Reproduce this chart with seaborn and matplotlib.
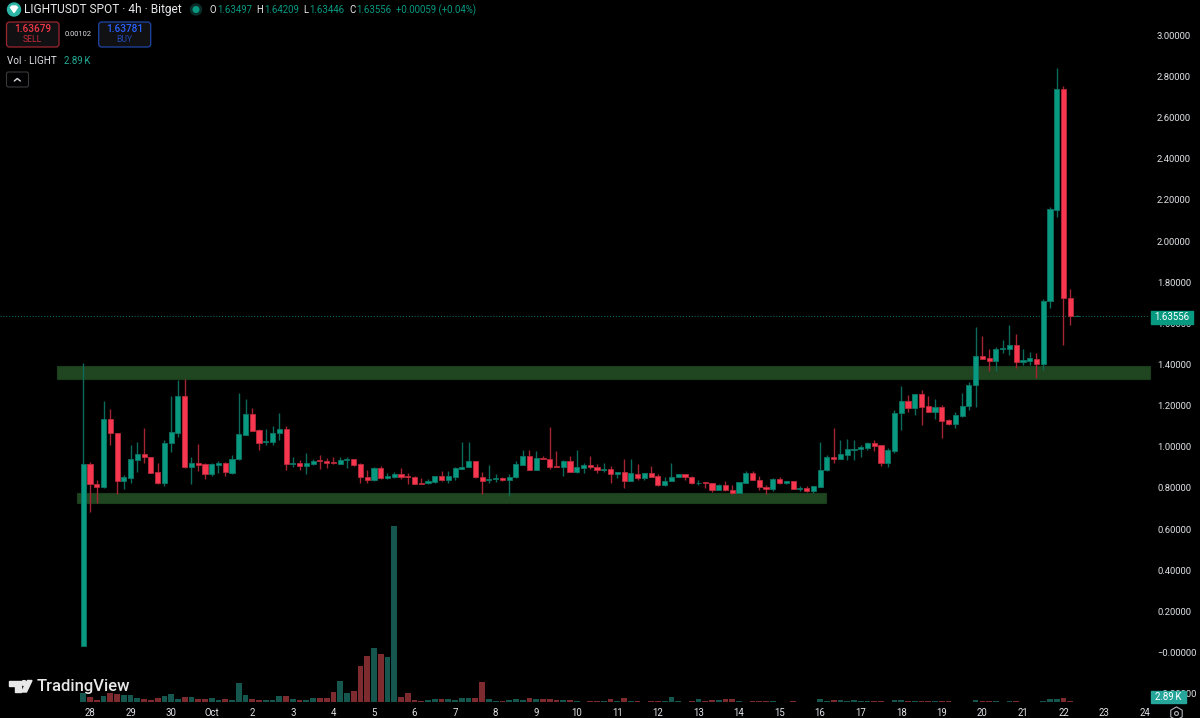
import numpy as np
import pandas as pd
import matplotlib
matplotlib.use('Agg')
import matplotlib.pyplot as plt
from matplotlib.patches import Rectangle, FancyBboxPatch, Polygon, Circle
import seaborn as sns

# 4h candles, 27 Sep 20:00 onward
opens = [0.03, 0.915, 0.821, 0.803, 1.134, 1.069, 0.834, 0.849, 0.938, 0.965, 0.952, 0.878, 0.826, 1.017, 1.069, 1.249,
         0.900, 0.923, 0.917, 0.868, 0.912, 0.923, 0.874, 0.939, 1.059, 1.16, 1.082, 1.025, 1.025, 1.067, 1.087, 0.917,
         0.921, 0.908, 0.917, 0.934, 0.933, 0.926, 0.918, 0.936, 0.941, 0.915, 0.855, 0.837, 0.897, 0.847, 0.855, 0.866,
         0.86, 0.855, 0.824, 0.823, 0.829, 0.858, 0.837, 0.855, 0.892, 0.9, 0.931, 0.855, 0.84, 0.845, 0.848, 0.837,
         0.852, 0.912, 0.955, 0.889, 0.944, 0.941, 0.907, 0.9, 0.929, 0.878, 0.897, 0.912, 0.904, 0.889, 0.892, 0.868,
         0.878, 0.834, 0.87, 0.85, 0.873, 0.858, 0.814, 0.834, 0.852, 0.866, 0.855, 0.823, 0.827, 0.824, 0.792, 0.814,
         0.792, 0.775, 0.826, 0.873, 0.84, 0.805, 0.795, 0.844, 0.823, 0.832, 0.797, 0.8, 0.784, 0.806, 0.886, 0.952,
         0.941, 0.96, 0.986, 0.988, 0.994, 1.02, 1.009, 0.92, 0.98, 1.163, 1.223, 1.189, 1.257, 1.197, 1.169, 1.194,
         1.129, 1.109, 1.151, 1.197, 1.299, 1.441, 1.432, 1.417, 1.475, 1.477, 1.493, 1.412, 1.419, 1.428, 1.403, 1.709,
         2.153, 2.737, 1.725, 1.63497]
highs = [1.409, 0.926, 0.839, 1.223, 1.182, 1.069, 0.861, 1.009, 1.023, 1.091, 0.952, 0.923, 1.033, 1.247, 1.325, 1.33,
         0.951, 1.014, 0.92, 0.92, 0.931, 0.926, 0.959, 1.262, 1.232, 1.187, 1.088, 1.087, 1.1, 1.163, 1.101, 0.952,
         0.934, 0.972, 0.939, 0.96, 0.944, 0.949, 0.949, 0.949, 0.941, 0.92, 0.886, 0.904, 0.907, 0.871, 0.878, 0.897,
         0.874, 0.858, 0.847, 0.844, 0.86, 0.882, 0.882, 0.9, 1.023, 1.023, 0.931, 0.878, 0.912, 0.866, 0.855, 0.868,
         0.933, 0.983, 0.983, 0.978, 0.954, 1.095, 0.978, 0.937, 0.955, 0.983, 0.923, 0.955, 0.915, 0.92, 0.905, 0.878,
         0.939, 0.941, 0.916, 0.874, 0.905, 0.866, 0.852, 0.92, 0.869, 0.869, 0.858, 0.84, 0.827, 0.824, 0.821, 0.836,
         0.816, 0.827, 0.881, 0.881, 0.858, 0.816, 0.847, 0.855, 0.834, 0.834, 0.809, 0.809, 0.809, 1.023, 0.959, 1.092,
         1.035, 1.038, 1.033, 1.009, 1.023, 1.035, 1.009, 0.994, 1.179, 1.297, 1.252, 1.257, 1.276, 1.245, 1.232, 1.203,
         1.134, 1.169, 1.263, 1.315, 1.584, 1.539, 1.474, 1.484, 1.519, 1.59, 1.548, 1.477, 1.459, 1.454, 1.717, 2.164,
         2.841, 2.755, 1.767, 1.64209]
lows = [0.03, 0.683, 0.729, 0.8, 1.009, 0.771, 0.795, 0.826, 0.878, 0.923, 0.871, 0.819, 0.811, 0.977, 1.05, 0.897,
        0.819, 0.884, 0.845, 0.858, 0.874, 0.86, 0.868, 0.936, 1.057, 1.077, 0.985, 1.009, 1.009, 1.033, 0.889, 0.904,
        0.889, 0.868, 0.912, 0.891, 0.897, 0.915, 0.917, 0.899, 0.908, 0.823, 0.823, 0.834, 0.842, 0.844, 0.847, 0.845,
        0.819, 0.819, 0.819, 0.819, 0.823, 0.834, 0.826, 0.84, 0.89, 0.9, 0.847, 0.769, 0.823, 0.829, 0.834, 0.763,
        0.85, 0.91, 0.888, 0.888, 0.94, 0.891, 0.9, 0.86, 0.878, 0.871, 0.874, 0.894, 0.874, 0.878, 0.824, 0.848,
        0.8, 0.834, 0.84, 0.84, 0.855, 0.811, 0.809, 0.834, 0.852, 0.84, 0.821, 0.816, 0.8, 0.78, 0.788, 0.785,
        0.769, 0.775, 0.824, 0.837, 0.792, 0.771, 0.785, 0.821, 0.821, 0.793, 0.787, 0.782, 0.775, 0.804, 0.884, 0.92,
        0.941, 0.938, 0.938, 0.952, 0.983, 0.98, 0.907, 0.9, 0.972, 1.082, 1.169, 1.155, 1.106, 1.167, 1.135, 1.043,
        1.107, 1.092, 1.143, 1.179, 1.194, 1.426, 1.369, 1.369, 1.458, 1.446, 1.381, 1.396, 1.396, 1.335, 1.373, 1.676,
        2.115, 1.493, 1.594, 1.63446]
closes = [0.915, 0.819, 0.803, 1.134, 1.067, 0.834, 0.852, 0.941, 0.965, 0.949, 0.874, 0.826, 1.02, 1.072, 1.249, 0.9,
          0.921, 0.912, 0.868, 0.915, 0.923, 0.876, 0.941, 1.062, 1.16, 1.077, 1.02, 1.028, 1.067, 1.087, 0.917, 0.921,
          0.908, 0.92, 0.933, 0.931, 0.92, 0.92, 0.936, 0.941, 0.912, 0.852, 0.837, 0.897, 0.847, 0.86, 0.866, 0.855,
          0.855, 0.821, 0.821, 0.832, 0.86, 0.837, 0.858, 0.897, 0.903, 0.931, 0.852, 0.836, 0.844, 0.85, 0.837, 0.855,
          0.915, 0.955, 0.889, 0.944, 0.941, 0.904, 0.9, 0.929, 0.878, 0.9, 0.912, 0.9, 0.887, 0.892, 0.868, 0.878,
          0.834, 0.871, 0.85, 0.874, 0.855, 0.814, 0.836, 0.855, 0.866, 0.852, 0.823, 0.826, 0.823, 0.792, 0.814, 0.788,
          0.777, 0.827, 0.873, 0.837, 0.803, 0.795, 0.844, 0.823, 0.832, 0.795, 0.8, 0.784, 0.809, 0.887, 0.952, 0.941,
          0.964, 0.989, 0.989, 0.999, 1.02, 1.006, 0.92, 0.983, 1.166, 1.223, 1.189, 1.257, 1.194, 1.169, 1.194, 1.126,
          1.109, 1.155, 1.198, 1.3, 1.441, 1.428, 1.417, 1.477, 1.48, 1.493, 1.411, 1.42, 1.43, 1.403, 1.71, 2.156,
          2.737, 1.722, 1.63497, 1.63556]
# volume in thousands
volumes = [39, 25, 12, 28, 39, 36, 32, 32, 17, 15, 12, 19, 26, 36, 15, 23, 23, 15, 15, 17, 9, 13, 12, 83, 32, 15, 9, 9,
           12, 29, 26, 15, 12, 12, 19, 19, 19, 46, 93, 42, 49, 157, 202, 236, 210, 197, 766, 22, 39, 9, 6, 9, 13, 13,
           13, 9, 19, 19, 19, 88, 15, 6, 6, 9, 13, 9, 17, 15, 13, 16, 9, 10, 9, 6, 3, 6, 6, 4, 15, 7, 20, 7, 4, 3,
           6, 6, 6, 25, 4, 3, 6, 16, 4, 10, 9, 15, 15, 6, 3, 4, 6, 6, 6, 3, 3, 4, 3, 3, 3, 15, 6, 10, 10, 6, 10, 6,
           6, 6, 6, 3, 9, 9, 6, 6, 6, 6, 4, 4, 4, 3, 3, 3, 10, 6, 4, 6, 3, 6, 4, 3, 3, 3, 6, 15, 15, 20, 6, 2.89]

day_labels = ['28', '29', '30', 'Oct', '2', '3', '4', '5', '6', '7', '8', '9', '10', '11', '12', '13', '14', '15', '16',
              '17', '18', '19', '20', '21', '22', '23', '24']
price_ticks = [-0.2, 0.0, 0.2, 0.4, 0.6, 0.8, 1.0, 1.2, 1.4, 1.6, 1.8, 2.0, 2.2, 2.4, 2.6, 2.8, 3.0]
price_labels = ['\u22120.20000', '\u22120.00000', '0.20000', '0.40000', '0.60000', '0.80000', '1.00000', '1.20000',
                '1.40000', '1.60000', '1.80000', '2.00000', '2.20000', '2.40000', '2.60000', '2.80000', '3.00000']

# drawn support / resistance boxes: start bar, end bar, low, high
zone_start = [-3.9, -0.9]
zone_end = [157.8, 109.8]
zone_low = [1.328, 0.725]
zone_high = [1.393, 0.775]

last_price = 1.63556

GREEN = '#089981'
RED = '#f7374f'
GREEN_WICK = '#0c6a5b'
RED_WICK = '#a32433'
GREEN_EDGE = '#0b7565'
RED_EDGE = '#b82a3a'
TICK_COL = '#dfe1e5'

sns.set_theme(style='dark', rc={'figure.facecolor': 'black', 'axes.facecolor': 'black',
                                'savefig.facecolor': 'black', 'axes.edgecolor': 'black'})
plt.rcParams['font.family'] = ['Roboto', 'DejaVu Sans']

df = pd.DataFrame({'bar': np.arange(len(opens)), 'open': opens, 'high': highs, 'low': lows,
                   'close': closes, 'volume': volumes})
df['dir'] = np.where(df['close'] >= df['open'], 'up', 'down')

fig = plt.figure(figsize=(12, 7.18), dpi=100)
ax = fig.add_axes([0, 11 / 718, 1148 / 1200, 707 / 718])
ax_vol = ax.twinx()
ax.set_zorder(ax_vol.get_zorder() + 1)
ax.patch.set_visible(False)

# volume along the bottom of the pane
sns.barplot(data=df, x='bar', y='volume', hue='dir', palette={'up': '#15574f', 'down': '#7d2b2f'},
            native_scale=True, dodge=False, width=0.85, saturation=1, errorbar=None, legend=False,
            linewidth=0, ax=ax_vol)
ax_vol.set_ylim(-20.45, 3056)
ax_vol.set_xlabel('')
ax_vol.set_ylabel('')
ax_vol.set_yticks([])
ax_vol.tick_params(length=0, labelbottom=False, labelright=False, labelleft=False)

# zones under the candles
for x0, x1, lo, hi in zip(zone_start, zone_end, zone_low, zone_high):
    ax.add_patch(Rectangle((x0, lo), x1 - x0, hi - lo, facecolor='#1f4620', edgecolor='#1a3d1b', lw=0.8, zorder=1,
                           clip_on=False))

ax.axhline(last_price, color=GREEN, lw=0.7, ls=(0, (1, 2)), alpha=0.8, zorder=1.5)

up = df[df['dir'] == 'up']
down = df[df['dir'] == 'down']
ax.vlines(up['bar'], up['low'], up['high'], color=GREEN_WICK, lw=1, zorder=2)
ax.vlines(down['bar'], down['low'], down['high'], color=RED_WICK, lw=1, zorder=2)
ax.bar(up['bar'], up['close'] - up['open'], bottom=up['open'], width=0.76, color=GREEN, edgecolor=GREEN_EDGE,
       linewidth=0.6, zorder=3)
ax.bar(down['bar'], down['close'] - down['open'], bottom=down['open'], width=0.76, color=RED, edgecolor=RED_EDGE,
       linewidth=0.6, zorder=3)

ax.set_ylim(-0.265, 3.172)
ax.set_xlim(-12.32, 157.5)
ax.set_xticks(np.arange(len(day_labels)) * 6 + 1, labels=day_labels)
ax.set_yticks(price_ticks, labels=price_labels)
ax.yaxis.tick_right()
ax.tick_params(axis='y', length=0, pad=6.5, labelsize=6.8, labelcolor=TICK_COL)
ax.tick_params(axis='x', length=0, pad=0.5, labelsize=6.9, labelcolor=TICK_COL)
ax.grid(False)
for s in ax.spines.values():
    s.set_visible(False)
for s in ax_vol.spines.values():
    s.set_visible(False)

# screen furniture in pixel coordinates
ui = fig.add_axes([0, 0, 1, 1])
ui.set_zorder(10)
ui.set_xlim(0, 1200)
ui.set_ylim(718, 0)
ui.axis('off')

ui.add_patch(Circle((14, 9.5), 6.5, color='#2cb5a6'))
ui.add_patch(Polygon([[10.5, 7.5], [12, 6], [16, 6], [17.5, 7.5], [14, 12.5]], color='white'))
ui.text(24, 9.8, 'LIGHTUSDT SPOT \u00b7 4h \u00b7 Bitget', color='#e6e7ea', fontsize=8.6, va='center', ha='left')
ui.add_patch(Circle((196, 9.5), 5.5, color='#0a2f2a'))
ui.add_patch(Circle((196, 9.5), 2.8, color=GREEN))
for xl, letter, xv, value in [(209, 'O', 217, '1.63497'), (256, 'H', 264, '1.64209'),
                              (303, 'L', 309.5, '1.63446'), (349, 'C', 356, '1.63556')]:
    ui.text(xl, 9.8, letter, color='#e6e7ea', fontsize=6.9, va='center', ha='left')
    ui.text(xv, 9.8, value, color=GREEN, fontsize=6.9, va='center', ha='left')
ui.text(396, 9.8, '+0.00059 (+0.04%)', color=GREEN, fontsize=6.9, va='center', ha='left')

ui.add_patch(FancyBboxPatch((6.5, 22), 52.5, 25, boxstyle='round,pad=0,rounding_size=3', fc='#111114', ec='#9c2530', lw=0.9))
ui.text(32.8, 29.5, '1.63679', color='#f23645', fontsize=7.2, fontweight='medium', ha='center', va='center')
ui.text(32.8, 40, 'SELL', color='#c22a38', fontsize=6.2, ha='center', va='center')
ui.text(78.5, 34.5, '0.00102', color='#dfe1e5', fontsize=5.4, ha='center', va='center')
ui.add_patch(FancyBboxPatch((98.7, 22), 52, 25, boxstyle='round,pad=0,rounding_size=3', fc='#111114', ec='#1f45a6', lw=0.9))
ui.text(124.7, 29.5, '1.63781', color='#2962ff', fontsize=7.2, fontweight='medium', ha='center', va='center')
ui.text(124.7, 40, 'BUY', color='#2349b0', fontsize=6.2, ha='center', va='center')

ui.text(7, 60.5, 'Vol \u00b7 LIGHT', color='#e0e1e5', fontsize=7.1, ha='left', va='center')
ui.text(63.5, 60.5, '2.89\u202fK', color='#22ab94', fontsize=6.9, ha='left', va='center')
ui.add_patch(FancyBboxPatch((6.5, 72), 22, 15, boxstyle='round,pad=0,rounding_size=2', fc='black', ec='#3a3a3e', lw=0.8))
ui.plot([14.3, 17.3, 20.3], [81, 78.5, 81], color='#d6d8dd', lw=1, solid_capstyle='round')

# TradingView logo
ui.add_patch(Polygon([[9, 680.5], [20.5, 680.5], [20.5, 692], [14.5, 692], [14.5, 685.5], [9, 685.5]], color='#e8e8e8'))
ui.add_patch(Circle((24, 683), 2.4, color='#e8e8e8'))
ui.add_patch(Polygon([[27.5, 680.5], [32, 680.5], [26.5, 692], [21.5, 692]], color='#e8e8e8'))
ui.text(37, 686.5, 'TradingView', color='#e8e8e8', fontsize=12, fontweight='medium', ha='left', va='center')

# price and volume tags sit on top of the scale labels
ui.add_patch(Rectangle((1150.7, 311), 42.5, 12.7, color=GREEN))
ui.text(1172, 317.4, '1.63556', color='white', fontsize=6.9, ha='center', va='center')
ui.add_patch(Rectangle((1150.7, 690.7), 35.3, 12, color='#26a69a'))
ui.text(1168.3, 696.8, '2.89\u202fK', color='white', fontsize=6.9, ha='center', va='center')

# chart settings glyph
ui.plot([1176], [713], marker='h', ms=9.5, mfc='none', mec='#b0b3b8', mew=0.8)
ui.plot([1176], [713], marker='o', ms=2.8, mfc='none', mec='#b0b3b8', mew=0.8)

fig.savefig('out.png', dpi=100)
